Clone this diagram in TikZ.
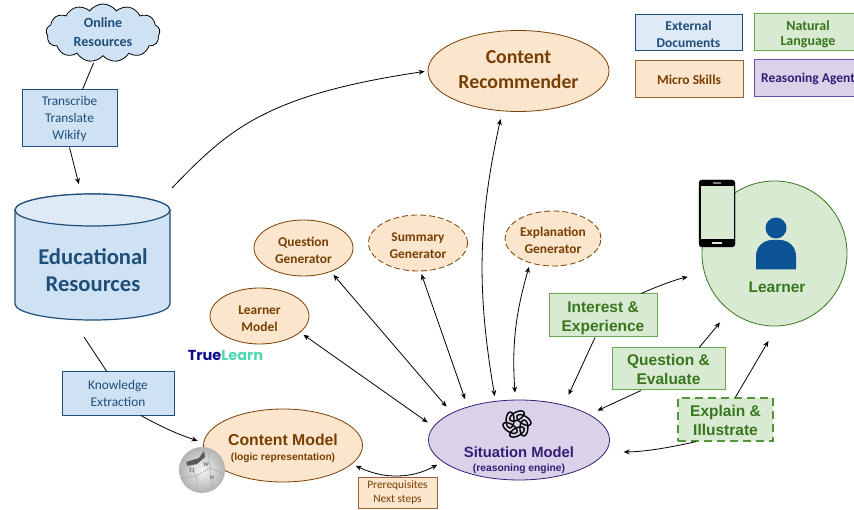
\documentclass[tikz,border=0pt]{standalone}
\usepackage{fontspec}
\setmainfont{Carlito}
\newfontfamily\arialfont{Liberation Sans}
\newfontfamily\logofont{Poppins}
\usepackage{xcolor}
\definecolor{myblue}{HTML}{CFE2F3}
\definecolor{mylightblue}{HTML}{DEEAF6}
\definecolor{mydarkblue}{HTML}{1F4E79}
\definecolor{myorange}{HTML}{FCE5CD}
\definecolor{mydarkorange}{HTML}{783F04}
\definecolor{mygreen}{HTML}{D9EAD3}
\definecolor{mymidgreen}{HTML}{6AA84F}
\definecolor{mydarkgreen}{HTML}{38761D}
\definecolor{mypurple}{HTML}{D9D2E9}
\definecolor{mydarkpurple}{HTML}{351C75}
\definecolor{mymidpurple}{HTML}{674EA7}
\definecolor{personblue}{HTML}{0B5394}
\definecolor{truenavy}{HTML}{0B0B8B}
\definecolor{learnteal}{HTML}{4FD8B0}
\usepackage{tikz}
\usetikzlibrary{arrows.meta}
\usetikzlibrary{shapes.geometric}
\usetikzlibrary{shapes.symbols}
\newcommand{\fsize}[2]{\fontsize{#1}{#2}\selectfont}
\newcommand{\firstline}[1]{\rule{0pt}{#1}}
\tikzset{
    common/.style={draw, rectangle, align=center, inner sep=0pt, line width=1pt},
    bluebox/.style={common, fill=myblue, draw=mydarkblue, text=mydarkblue, font=\fsize{13.3}{17}},
    legendblue/.style={bluebox, fill=mylightblue, font=\fsize{13.5}{17}\bfseries, minimum width=107, minimum height=36},
    greenbox/.style={common, fill=mygreen, draw=mymidgreen, text=mydarkgreen, font=\arialfont\fsize{15.5}{19}\bfseries},
    legendgreen/.style={common, fill=mygreen, draw=mymidgreen, text=mydarkgreen, font=\fsize{14}{15.5}\bfseries, minimum width=108, minimum height=37},
    legendorange/.style={common, fill=myorange, draw=mydarkorange!80, text=mydarkorange, font=\fsize{13.5}{17}\bfseries, minimum width=108, minimum height=37},
    legendpurple/.style={common, fill=mypurple, draw=mymidpurple, text=mydarkpurple, font=\fsize{13.5}{17}\bfseries, minimum width=108, minimum height=37},
    skill/.style={draw=mydarkorange, line width=0.8pt, ellipse, fill=myorange, text=mydarkorange, align=center, inner sep=0pt},
    generator/.style={skill, minimum width=99, minimum height=56, font=\fsize{13.4}{17}\bfseries},
    longdash/.style={dash pattern=on 6pt off 3pt},
    link/.style={line width=0.8pt, >={Stealth[length=6pt,width=5pt]}}
}

\begin{document}
\begin{tikzpicture}[x=1pt,y=1pt]
    \useasboundingbox (0,0) rectangle (854,-510);

    % left column
    \node[cloud, cloud puffs=13, cloud puff arc=110, aspect=2, draw=black, line width=0.8pt, fill=myblue, text=mydarkblue, align=center,
          inner sep=0pt, minimum width=114, minimum height=58, font=\fsize{14}{19}\bfseries] (online) at (103,-33) {Online\\Resources\vphantom{p}};
    \node[bluebox, minimum width=95, minimum height=57] (transcribe) at (69.5,-118.5) {\firstline{11pt}Transcribe\\Translate\\Wikify};
    \node[minimum width=155, minimum height=126, inner sep=0pt] (resources) at (92.5,-257) {};
    \filldraw[draw=mydarkblue, line width=1.2pt, fill=myblue] (15,-210) -- (15,-304) arc (180:360:77.5 and 16) -- (170,-210) arc (0:180:77.5 and 16) -- cycle;
    \filldraw[draw=mydarkblue, line width=1.2pt, fill=mylightblue] (92.5,-210) ellipse (77.5 and 16);
    \node[text=mydarkblue, align=center, font=\fsize{22.6}{27}\bfseries] (resources-label) at (93,-270) {Educational\\Resources};
    \node[bluebox, minimum width=112, minimum height=43] (knowledge) at (118,-393.5) {Knowledge\\Extraction};

    % micro skills
    \node[skill, minimum width=181, minimum height=81, font=\fsize{19.8}{25}\bfseries] (recommender) at (518.5,-71) {Content\\Recommender\rule[-2pt]{0pt}{2pt}};
    \node[generator] (question-gen) at (303.5,-248) {\firstline{14pt}Question\\Generator};
    \node[generator, longdash] (summary-gen) at (418,-243) {\firstline{14pt}Summary\\Generator};
    \node[generator, longdash, minimum width=96, minimum height=55] (explain-gen) at (553,-238.5) {\firstline{14pt}Explanation\\Generator};
    \node[generator] (learner-model) at (259.5,-316) {\firstline{14pt}Learner\\Model};
    \node[font=\logofont\fsize{14.5}{15}\bfseries, inner sep=0pt] (truelearn) at (225.5,-355) {\textcolor{truenavy}{True}\textcolor{learnteal}{Learn}};
    \node[skill, minimum width=159, minimum height=73, align=center, font=\arialfont\fsize{15.8}{15}\bfseries] (content-model) at (283,-445.5) {\firstline{17pt}Content Model\\[0.5pt]{\fsize{10.2}{12}(logic representation)}};

    % wikipedia globe
    \shade[inner color=gray!8, outer color=gray!60] (202,-470) circle (23);
    \fill[gray!70!black] (186,-462) -- (199,-458) -- (204,-451) -- (205,-457) -- (197,-464) -- (187,-466) -- cycle;
    \draw[gray!70, line width=0.4pt] (181,-478) -- (196,-476) -- (198,-491) (208,-451) -- (210,-468) -- (224,-474) (196,-476) -- (210,-468) (186,-462) -- (196,-476) (210,-468) -- (213,-490);
    \node[gray!50!black, font=\fsize{6}{7}, inner sep=0pt] (wiki-w) at (206,-465) {W};
    \node[gray!50!black, font=\fsize{6}{7}, inner sep=0pt] (wiki-o) at (192,-470) {$\Omega$};
    \node[gray!50!black, font=\fsize{6}{7}, inner sep=0pt] (wiki-h) at (212,-478) {H};

    \node[common, fill=myorange, draw=mydarkorange!80, text=mydarkorange, font=\fsize{11.4}{14.5}, minimum width=79, minimum height=31] (prerequisites) at (397.5,-492.5) {Prerequisites\\Next steps};

    % situation model
    \node[skill, fill=mypurple, draw=mydarkpurple, minimum width=181, minimum height=80] (situation) at (519,-440) {};
    \node[text=mydarkpurple, align=center, inner sep=0pt, font=\arialfont\fsize{14.8}{15}\bfseries] (situation-label) at (519,-460) {Situation Model\\[-0.5pt]{\fsize{10.3}{12}(reasoning engine)}};
    \coordinate (logo) at (517,-424);
    \foreach \a in {0,60,...,300} {
        \draw[line width=1.4pt, shift={(logo)}, rotate=\a] (0,8) circle[x radius=8, y radius=4, rotate=28];
    }

    % learner
    \node[circle, draw=mydarkgreen, line width=0.8pt, fill=mygreen, minimum size=145, inner sep=0pt] (learner) at (774.5,-253.5) {};
    \node[text=mydarkgreen, font=\arialfont\fsize{15.5}{17}\bfseries, inner sep=0pt] (learner-label) at (777,-287.5) {Learner};
    \fill[personblue] (776,-228) circle (10.5);
    \fill[personblue] (756,-269.5) -- (756,-256) arc (180:90:16) -- (780,-240) arc (90:0:16) -- (796,-269.5) -- cycle;
    \node[draw=black, fill=black, rounded corners=3, minimum width=36, minimum height=67, inner sep=0pt] (phone) at (717,-213.5) {};
    \node[fill=mygreen, minimum width=32.5, minimum height=53.5, inner sep=0pt] (screen) at (717.3,-212.5) {};
    \node[fill=mygreen, minimum width=10, minimum height=2.5, inner sep=0pt] (home-button) at (717,-243) {};
    \node[fill=gray, minimum width=8, minimum height=1.5, inner sep=0pt] (speaker) at (717,-182.8) {};

    \node[greenbox, minimum width=108, minimum height=43] (interest) at (603,-315.5) {\firstline{16pt}Interest \&\\Experience};
    \node[greenbox, minimum width=113, minimum height=42] (question) at (668.5,-369) {Question \&\\Evaluate};
    \node[greenbox, draw=mymidgreen!60!mydarkgreen, dash pattern=on 8pt off 5pt, minimum width=95, minimum height=43, line width=1.2pt] (explain) at (725.5,-419.5) {\firstline{13pt}Explain \&\\Illustrate};

    % legend
    \node[legendblue] (legend-docs) at (688.5,-33) {\firstline{12pt}External\\Documents};
    \node[legendgreen] (legend-language) at (808,-32.5) {\firstline{13pt}Natural\\Language};
    \node[legendorange] (legend-skills) at (689,-79.5) {Micro Skills};
    \node[legendpurple] (legend-agent) at (808,-78.5) {Reasoning Agent};

    % connectors
    \draw[link, shorten <=2] (online.-107) -- (transcribe.66);
    \draw[link, ->, shorten >=10] (transcribe.south) -- (resources.100);
    \coordinate (resources-out) at (172,-188);
    \draw[link, ->, shorten >=3] (resources-out) .. controls (228,-130) and (265,-95) .. (recommender.west);
    \coordinate (resources-down) at (84,-337);
    \draw[link] (resources-down) -- (knowledge.117);
    \draw[link, ->, shorten >=6] (knowledge.-44) to[bend right=5] (content-model.178);

    \draw[link, <->, shorten <=4, shorten >=7] (learner-model.-22) -- (situation.171);
    \draw[link, <->, shorten <=4, shorten >=8] (question-gen.-41) -- (situation.158);
    \draw[link, <->, shorten <=3, shorten >=8] (summary-gen.-85) -- (situation.147);
    \draw[link, <->, shorten <=8, shorten >=5] (recommender.248) to[bend right=11] (situation.121);
    \draw[link, <->, shorten <=4, shorten >=7] (explain-gen.227) to[bend right=10] (situation.95);
    \draw[link, <->, shorten <=4, shorten >=6] (content-model.-15) to[bend right=27] (situation.196);

    \draw[link, ->, shorten >=11] (interest.-110) -- (situation.38);
    \draw[link, ->, shorten >=17] (interest.30) to[bend left=6] (learner.196);
    \draw[link, ->, shorten >=9] (question.218) -- (situation.20);
    \draw[link, ->, shorten >=15] (question.35) -- (learner.232);
    \draw[link, ->, shorten >=18] (explain.217) to[bend left=6] (situation.-8);
    \draw[link, ->, shorten >=17] (explain.66) -- (learner.272);
\end{tikzpicture}
\end{document}
